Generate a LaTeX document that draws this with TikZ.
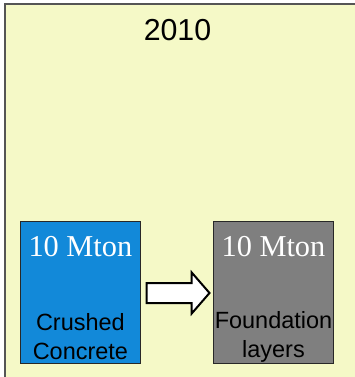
\documentclass[tikz,border=0pt]{standalone}
\usepackage{fontspec}
\setmainfont{Liberation Serif}
\setsansfont{Liberation Sans}
\definecolor{slidebg}{RGB}{245,249,199}
\definecolor{framegray}{RGB}{85,85,85}
\definecolor{crushblue}{RGB}{18,137,217}
\definecolor{layergray}{RGB}{127,127,127}
\tikzset{every picture/.style={line width=0.75pt}}
\tikzset{
  stockbox/.style={draw={rgb,255:red,40;green,40;blue,40}, line width=0.8pt, minimum width=89.5pt, minimum height=106pt, inner sep=0pt},
  masstext/.style={text=white, font=\fontsize{22.75}{27}\selectfont},
  kindtext/.style={font=\sffamily\fontsize{17.6}{21.75}\selectfont, align=center}
}

\begin{document}
\begin{tikzpicture}[x=0.75pt,y=0.75pt,yscale=-1,xscale=1]
	\useasboundingbox (0,0) rectangle (354,377);

	%Shape: Rectangle (slide)
	\fill [slidebg] (5,4) rectangle (362,385);
	\draw [framegray, line width=1.2pt] (5,385) -- (5,4) -- (362,4);

	% Text Node
	\draw (177.5,30) node [font=\sffamily\fontsize{22.75}{27}\selectfont] (year) {2010};

	%Shape: Rectangle
	\node [stockbox, fill=crushblue] (crushed) at (80.4,292.4) {};
	%Shape: Rectangle
	\node [stockbox, fill=layergray] (layers) at (273.5,292.4) {};

	%Shape: Right Arrow
	\coordinate (arrowL) at (146.5,293);
	\draw [fill=white, line width=1.5pt, line join=miter] (arrowL) ++(0,-10) -- ++(45.2,0) -- ++(0,-10.5) -- ++(17.8,20.5) -- ++(-17.8,20.5) -- ++(0,-10.5) -- ++(-45.2,0) -- cycle;

	% Text Node
	\draw (80.4,246.5) node [masstext] (crushedmass) {10 Mton};
	% Text Node
	\draw (273.5,246.5) node [masstext] (layersmass) {10 Mton};
	% Text Node
	\draw (80.4,337) node [kindtext] (crushedname) {Crushed\\Concrete};
	% Text Node
	\draw (273.5,337) node [kindtext] (layersname) {Foundation\\layers};

\end{tikzpicture}
\end{document}
